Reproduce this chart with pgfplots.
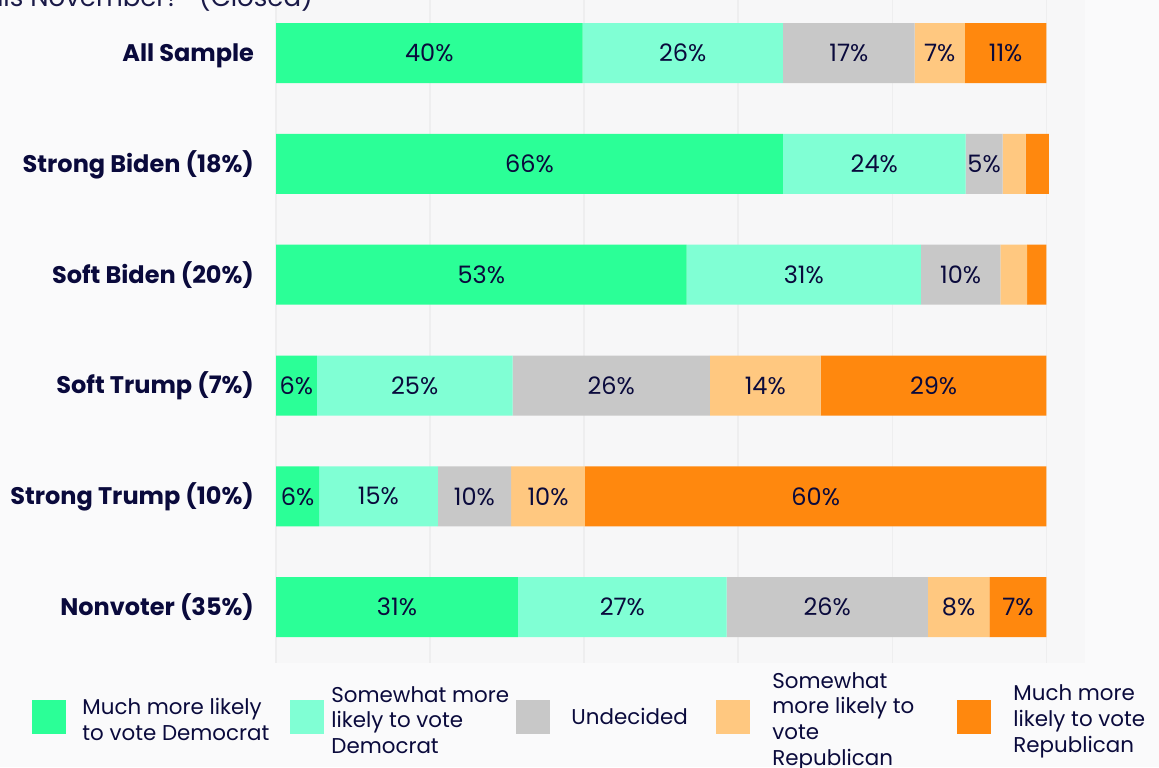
\documentclass[border=0pt]{standalone}
\usepackage{fontspec}
\setmainfont{Poppins}
\usepackage{pgfplots}
\usepackage{pgfplotstable}
\pgfplotsset{compat=1.18}

\definecolor{dem}{HTML}{2BFF97}
\definecolor{semidem}{HTML}{80FFD4}
\definecolor{undec}{HTML}{C8C8C8}
\definecolor{semirep}{HTML}{FFC880}
\definecolor{rep}{HTML}{FF880E}
\definecolor{navy}{HTML}{0A0A3C}
\definecolor{pagebg}{HTML}{FAFAFB}
\definecolor{axbg}{HTML}{F7F7F8}
\definecolor{gridc}{HTML}{EEEEEF}
\definecolor{titlec}{HTML}{1A1A48}

% segment widths (w) and printed labels (l)
\pgfplotstableread{
y w1   l1     w2   l2     w3   l3     w4   l4     w5   l5
0 39.8 40\%   26.0 26\%   17.1 17\%   6.5  7\%    10.6 11\%
1 65.8 66\%   23.7 24\%   4.8  5\%    3.0  {}     3.0  {}
2 53.3 53\%   30.4 31\%   10.3 10\%   3.5  {}     2.5  {}
3 5.3  6\%    25.4 25\%   25.6 26\%   14.4 14\%   29.3 29\%
4 5.6  6\%    15.4 15\%   9.5  10\%   9.6  10\%   59.9 60\%
5 31.4 31\%   27.1 27\%   26.1 26\%   8.0  8\%    7.4  7\%
}\votes

\begin{document}
\begin{tikzpicture}
\useasboundingbox (0,0) rectangle (579.5pt,-383.5pt);
\clip (0,0) rectangle (579.5pt,-383.5pt);
\fill[pagebg] (0,0) rectangle (579.5pt,-383.5pt);
\begin{axis}[
    at={(138pt,-331.3pt)}, anchor=south west,
    scale only axis,
    width=404.5pt, height=332.5pt,
    xbar stacked,
    bar width=30pt,
    xmin=0, xmax=105,
    ymin=-0.5, ymax=5.5,
    y dir=reverse,
    axis line style={draw=none},
    tick style={draw=none},
    axis background/.style={fill=axbg},
    xtick={0,20,...,100},
    xticklabels={},
    xmajorgrids,
    grid style={gridc, line width=0.8pt},
    ytick={0,...,5},
    yticklabels={All Sample, Strong Biden (18\%), Soft Biden (20\%), Soft Trump (7\%), Strong Trump (10\%), Nonvoter (35\%)},
    yticklabel style={font=\fontsize{12}{14}\selectfont\bfseries, text=navy, anchor=base east, xshift=-7.5pt, yshift=-4.2pt},
    point meta=explicit symbolic,
    nodes near coords,
    every node near coord/.append style={anchor=center, font=\fontsize{12}{14}\selectfont, text=navy},
    legend columns=5,
    legend style={at={(-0.3016,-0.0818)}, anchor=west, draw=none, fill=none,
        inner sep=0pt, nodes={inner sep=0pt},
        font=\fontsize{10.7}{12.8}\selectfont, text=navy,
        /tikz/every odd column/.append style={column sep=0pt},
        /tikz/every even column/.append style={column sep=0pt}},
    legend image code/.code={\fill[#1] (0pt,-8.4pt) rectangle (17pt,8.4pt);},
]
\addplot[fill=dem, draw=none] table[x=w1, y=y, meta=l1]{\votes};
\addlegendentry{\hspace*{8pt}\raisebox{3.8pt}{\parbox{104pt}{\raggedright Much more likely\\to vote Democrat}}}
\addplot[fill=semidem, draw=none] table[x=w2, y=y, meta=l2]{\votes};
\addlegendentry{\hspace*{3.5pt}\raisebox{9.5pt}{\parbox{92.5pt}{\raggedright Somewhat more\\likely to vote\\Democrat}}}
\addplot[fill=undec, draw=none] table[x=w3, y=y, meta=l3]{\votes};
\addlegendentry{\hspace*{10.5pt}\parbox{72.5pt}{\raggedright Undecided}}
\addplot[fill=semirep, draw=none] table[x=w4, y=y, meta=l4]{\votes};
\addlegendentry{\hspace*{11pt}\raisebox{15.7pt}{\parbox{92.5pt}{\raggedright Somewhat\\more likely to\\vote\\Republican}}}
\addplot[fill=rep, draw=none] table[x=w5, y=y, meta=l5]{\votes};
\addlegendentry{\hspace*{11pt}\raisebox{9.5pt}{\parbox{70pt}{\raggedright Much more\\likely to vote\\Republican}}}
\end{axis}
\node[anchor=base east, font=\fontsize{13}{15}\selectfont, text=titlec] at (160pt,-3pt) {this November?'' (Closed)};
\end{tikzpicture}
\end{document}
